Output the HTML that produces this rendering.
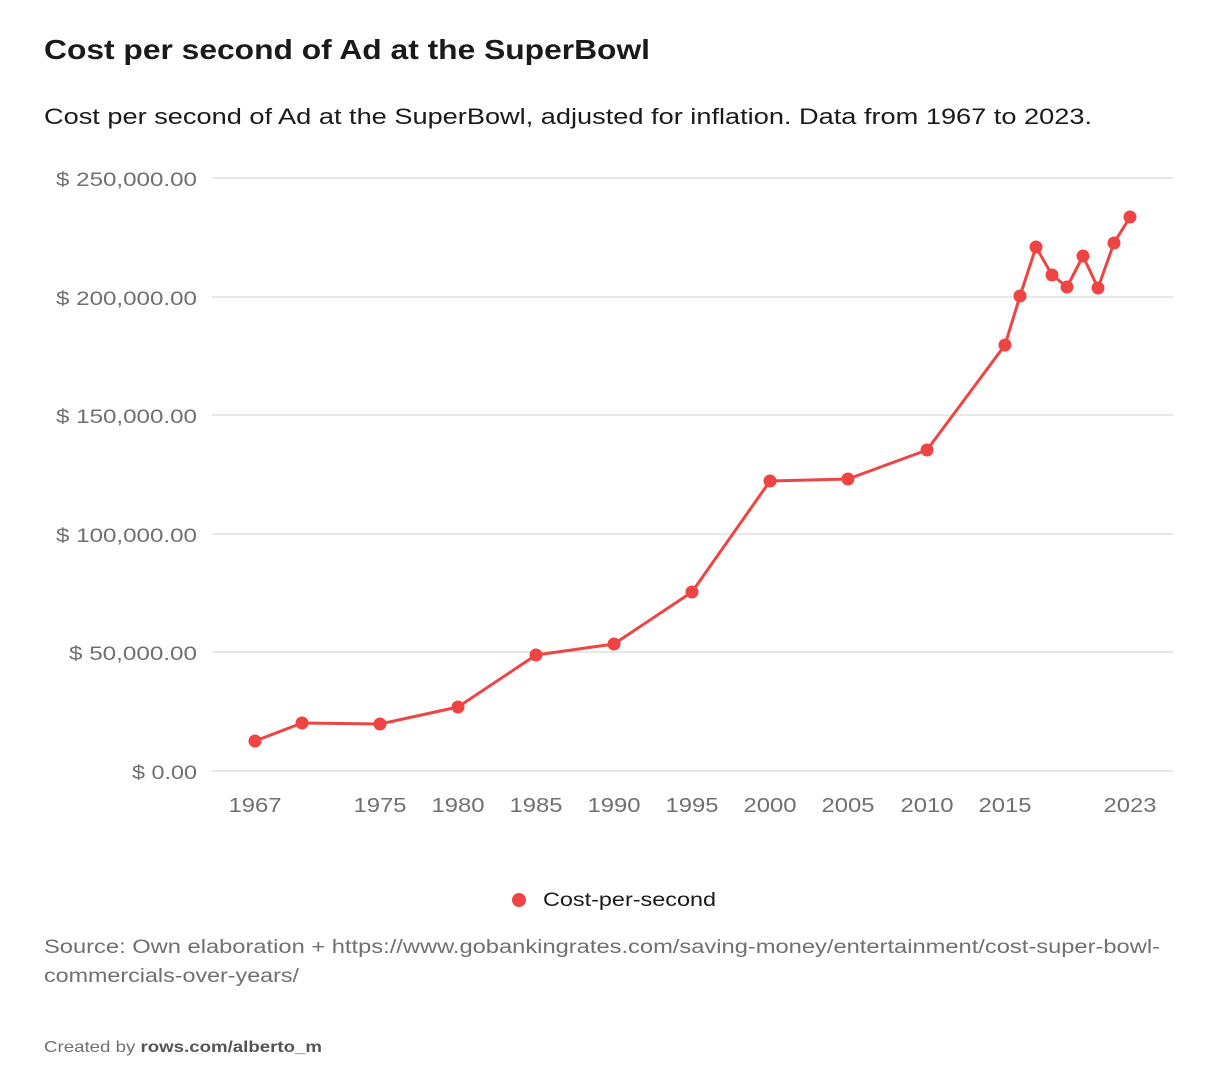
<!DOCTYPE html>
<html><head><meta charset="utf-8"><style>
html,body{margin:0;padding:0;background:#fff;}
svg{display:block;font-family:"Liberation Sans",sans-serif;}
</style></head><body>
<svg width="1220" height="1088" viewBox="0 0 1220 1088">
<text x="44" y="59" font-size="28" font-weight="bold" fill="#1a1a1a" textLength="606" lengthAdjust="spacingAndGlyphs">Cost per second of Ad at the SuperBowl</text>
<text x="44" y="124" font-size="22" fill="#1a1a1a" textLength="1048" lengthAdjust="spacingAndGlyphs">Cost per second of Ad at the SuperBowl, adjusted for inflation. Data from 1967 to 2023.</text>
<g stroke="#e0e0e0" stroke-width="1.5">
<line x1="212" x2="1173" y1="178" y2="178"/>
<line x1="212" x2="1173" y1="297" y2="297"/>
<line x1="212" x2="1173" y1="415" y2="415"/>
<line x1="212" x2="1173" y1="534" y2="534"/>
<line x1="212" x2="1173" y1="652" y2="652"/>
<line x1="212" x2="1173" y1="771" y2="771"/>
</g>
<g font-size="19" fill="#707070" text-anchor="end">
<text x="197" y="186" textLength="141" lengthAdjust="spacingAndGlyphs">$ 250,000.00</text>
<text x="197" y="305" textLength="141" lengthAdjust="spacingAndGlyphs">$ 200,000.00</text>
<text x="197" y="423" textLength="141" lengthAdjust="spacingAndGlyphs">$ 150,000.00</text>
<text x="197" y="542" textLength="141" lengthAdjust="spacingAndGlyphs">$ 100,000.00</text>
<text x="197" y="660" textLength="128" lengthAdjust="spacingAndGlyphs">$ 50,000.00</text>
<text x="197" y="779" textLength="65" lengthAdjust="spacingAndGlyphs">$ 0.00</text>
</g>
<g font-size="20" fill="#707070" text-anchor="middle">
<text x="255" y="812" textLength="53" lengthAdjust="spacingAndGlyphs">1967</text><text x="380" y="812" textLength="53" lengthAdjust="spacingAndGlyphs">1975</text><text x="458" y="812" textLength="53" lengthAdjust="spacingAndGlyphs">1980</text>
<text x="536" y="812" textLength="53" lengthAdjust="spacingAndGlyphs">1985</text><text x="614" y="812" textLength="53" lengthAdjust="spacingAndGlyphs">1990</text><text x="692" y="812" textLength="53" lengthAdjust="spacingAndGlyphs">1995</text>
<text x="770" y="812" textLength="53" lengthAdjust="spacingAndGlyphs">2000</text><text x="848" y="812" textLength="53" lengthAdjust="spacingAndGlyphs">2005</text><text x="927" y="812" textLength="53" lengthAdjust="spacingAndGlyphs">2010</text>
<text x="1005" y="812" textLength="53" lengthAdjust="spacingAndGlyphs">2015</text><text x="1130" y="812" textLength="53" lengthAdjust="spacingAndGlyphs">2023</text>
</g>
<polyline fill="none" stroke="#ef4444" stroke-width="3" stroke-linejoin="round" points="255,741 302,723 380,724 458,707 536,655 614,644 692,592 770,481 848,479 927,450 1005,345 1020,296 1036,247 1052,275 1067,287 1083,256 1098,288 1114,243 1130,217"/>
<g fill="#ef4444">
<circle cx="255" cy="741" r="6.5"/><circle cx="302" cy="723" r="6.5"/><circle cx="380" cy="724" r="6.5"/><circle cx="458" cy="707" r="6.5"/><circle cx="536" cy="655" r="6.5"/><circle cx="614" cy="644" r="6.5"/><circle cx="692" cy="592" r="6.5"/><circle cx="770" cy="481" r="6.5"/><circle cx="848" cy="479" r="6.5"/><circle cx="927" cy="450" r="6.5"/><circle cx="1005" cy="345" r="6.5"/><circle cx="1020" cy="296" r="6.5"/><circle cx="1036" cy="247" r="6.5"/><circle cx="1052" cy="275" r="6.5"/><circle cx="1067" cy="287" r="6.5"/><circle cx="1083" cy="256" r="6.5"/><circle cx="1098" cy="288" r="6.5"/><circle cx="1114" cy="243" r="6.5"/><circle cx="1130" cy="217" r="6.5"/>
<circle cx="519" cy="900" r="7"/>
</g>
<text x="543" y="906" font-size="19" fill="#1a1a1a" textLength="173" lengthAdjust="spacingAndGlyphs">Cost-per-second</text>
<text x="44" y="953" font-size="19" fill="#707070" textLength="1116" lengthAdjust="spacingAndGlyphs">Source: Own elaboration + https://www.gobankingrates.com/saving-money/entertainment/cost-super-bowl-</text>
<text x="44" y="982" font-size="19" fill="#707070" textLength="255" lengthAdjust="spacingAndGlyphs">commercials-over-years/</text>
<text x="44" y="1052" font-size="16" fill="#707070" textLength="278" lengthAdjust="spacingAndGlyphs">Created by <tspan font-weight="bold" fill="#555">rows.com/alberto_m</tspan></text>
</svg>
</body></html>
